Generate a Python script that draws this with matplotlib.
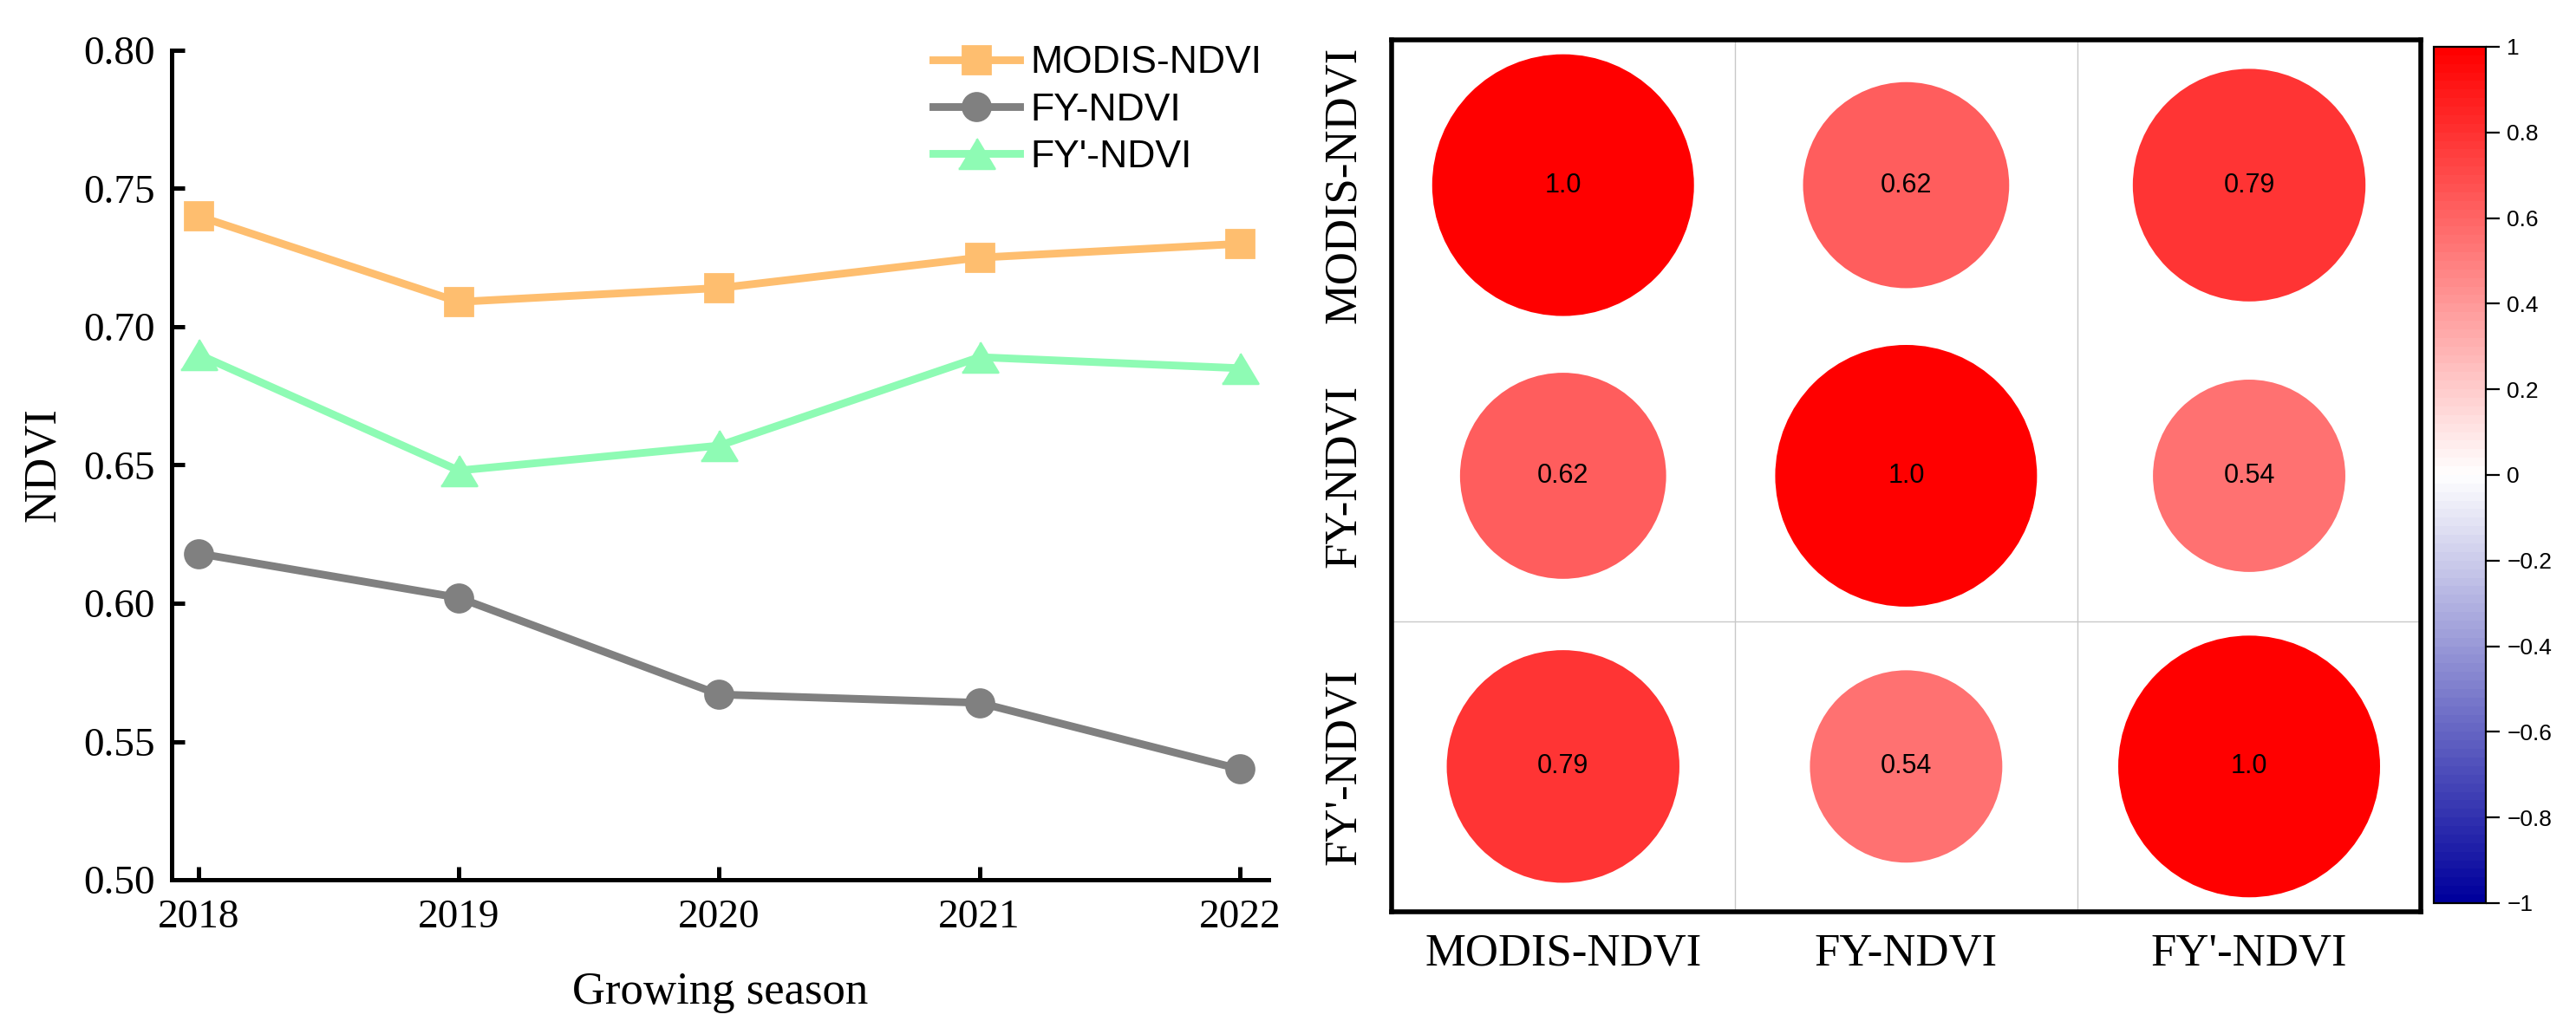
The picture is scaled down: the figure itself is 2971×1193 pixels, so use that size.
import numpy as np
import matplotlib
matplotlib.use("Agg")
import matplotlib.pyplot as plt
from matplotlib.colors import LinearSegmentedColormap, Normalize
from matplotlib.cm import ScalarMappable

# ---- data ----
years = [2018, 2019, 2020, 2021, 2022]
modis_ndvi = [0.740, 0.709, 0.714, 0.725, 0.730]
fy_ndvi = [0.618, 0.602, 0.567, 0.564, 0.540]
fy2_ndvi = [0.690, 0.648, 0.657, 0.689, 0.685]

var_names = ["MODIS-NDVI", "FY-NDVI", "FY'-NDVI"]
corr = np.array([[1.0, 0.62, 0.79],
                 [0.62, 1.0, 0.54],
                 [0.79, 0.54, 1.0]])

yticks = [0.50, 0.55, 0.60, 0.65, 0.70, 0.75, 0.80]
cbar_ticks = [-1, -0.8, -0.6, -0.4, -0.2, 0, 0.2, 0.4, 0.6, 0.8, 1]

SERIF = "Liberation Serif"
SANS = "Liberation Sans"

fig = plt.figure(figsize=(2971 / 200, 1193 / 200), dpi=200)

# ---------------- left: line chart ----------------
ax = fig.add_axes([0.0666, 0.1492, 0.4258, 0.8022])
ax.plot(years, modis_ndvi, color="#FEBE6F", lw=3.2, marker="s", ms=11.5,
        label="MODIS-NDVI", zorder=3)
ax.plot(years, fy_ndvi, color="#808080", lw=3.2, marker="o", ms=11.5,
        label="FY-NDVI", zorder=3)
tri = [(-1.2, -1), (1.2, -1), (0, 1)]
ax.plot(years, fy2_ndvi, color="#8EFBB4", lw=3.2, marker=tri, ms=15,
        label="FY'-NDVI", zorder=3)

ax.set_xlim(2017.897, 2022.11)
ax.set_ylim(0.50, 0.80)
ax.set_xticks(years)
ax.set_yticks(yticks)
ax.set_yticklabels([f"{v:.2f}" for v in yticks])
for s in ["top", "right"]:
    ax.spines[s].set_visible(False)
for s in ["left", "bottom"]:
    ax.spines[s].set_linewidth(1.8)
ax.tick_params(direction="in", length=5.4, width=1.8, labelsize=17)
ax.tick_params(axis="x", pad=8)
ax.tick_params(axis="y", pad=7)
for lab in ax.get_xticklabels() + ax.get_yticklabels():
    lab.set_family(SERIF)
ax.set_xlabel("Growing season", family=SERIF, fontsize=19, labelpad=15)
ax.set_ylabel("NDVI", family=SERIF, fontsize=19, labelpad=8)

leg = ax.legend(loc="upper right", bbox_to_anchor=(0.994, 1.006), frameon=False,
                borderaxespad=0, borderpad=0, handlelength=2.25,
                handletextpad=0.28, labelspacing=0.3,
                prop={"family": SANS, "size": 16})

# ---------------- right: correlation circles ----------------
cmap = LinearSegmentedColormap.from_list(
    "bwr_dark", ["#00009C", "#FFFFFF", "#FF0000"], N=100)
norm = Normalize(vmin=-1, vmax=1)

hx = fig.add_axes([0.5402, 0.1182, 0.3995, 0.8433])
n = len(var_names)
rows, cols = np.meshgrid(np.arange(n), np.arange(n), indexing="ij")
vals = corr.ravel()
hx.scatter(cols.ravel(), rows.ravel(), s=11816 * np.abs(vals),
           c=vals, cmap=cmap, norm=norm, linewidths=0, zorder=2)
for r in range(n):
    for c in range(n):
        v = corr[r, c]
        txt = "1.0" if v == 1 else f"{v:.2f}"
        hx.text(c, r, txt, ha="center", va="center", family=SANS,
                fontsize=11, color="black", zorder=3)

# grid lines (reference only shows these)
for xv in [0.5, 1.5]:
    hx.axvline(xv, color="#C8C8C8", lw=0.5, zorder=1)
hx.axhline(1.5, color="#C8C8C8", lw=0.5, zorder=1)

hx.set_xlim(-0.5, n - 0.5)
hx.set_ylim(n - 0.5, -0.5)
hx.set_xticks(range(n))
hx.set_yticks(range(n))
hx.set_xticklabels(var_names, family=SERIF, fontsize=19)
hx.set_yticklabels(var_names, family=SERIF, fontsize=19, rotation=90,
                   va="center")
hx.tick_params(length=0)
hx.tick_params(axis="x", pad=9)
hx.tick_params(axis="y", pad=11)
for s in hx.spines.values():
    s.set_linewidth(2.0)

# colorbar
cax = fig.add_axes([0.9448, 0.1266, 0.0202, 0.8282])
cb = fig.colorbar(ScalarMappable(norm=norm, cmap=cmap), cax=cax)
cb.set_ticks(cbar_ticks)
cb.set_ticklabels([f"{t:g}".replace("-", "\u2212") for t in cbar_ticks])
cb.outline.set_linewidth(0.8)
cax.tick_params(length=5.8, width=0.8, labelsize=9.5, pad=3)
for lab in cax.get_yticklabels():
    lab.set_family(SANS)

fig.savefig("out.png", dpi=200)
